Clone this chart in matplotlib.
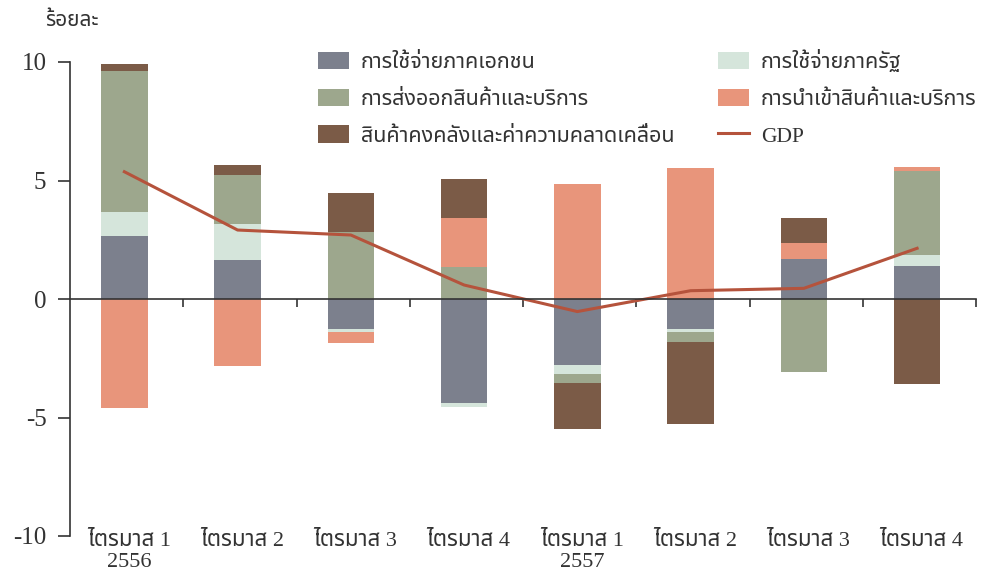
import numpy as np
import matplotlib
matplotlib.use("Agg")
import matplotlib.pyplot as plt
from matplotlib.patches import Patch
from matplotlib.lines import Line2D

plt.rcParams['font.family'] = ['Liberation Serif', 'Noto Sans Thai', 'DejaVu Sans']

quarters = ['ไตรมาส 1\n2556', 'ไตรมาส 2', 'ไตรมาส 3', 'ไตรมาส 4',
            'ไตรมาส 1\n2557', 'ไตรมาส 2', 'ไตรมาส 3', 'ไตรมาส 4']

# contributions to growth (percentage points)
private = [2.66, 1.65, -1.28, -4.40, -2.78, -1.25, 1.67, 1.39]
government = [1.00, 1.50, -0.13, -0.14, -0.40, -0.16, 0.00, 0.47]
exports = [5.98, 2.08, 2.84, 1.36, -0.35, -0.39, -3.07, 3.56]
imports = [-4.61, -2.83, -0.46, 2.04, 4.85, 5.51, 0.68, 0.14]
inventory = [0.28, 0.42, 1.62, 1.65, -1.97, -3.47, 1.05, -3.59]
gdp = [5.37, 2.91, 2.70, 0.59, -0.53, 0.35, 0.45, 2.14]

series = [
    ('การใช้จ่ายภาคเอกชน', private, '#7c808d'),
    ('การใช้จ่ายภาครัฐ', government, '#d5e5db'),
    ('การส่งออกสินค้าและบริการ', exports, '#9da78d'),
    ('การนำเข้าสินค้าและบริการ', imports, '#e8957b'),
    ('สินค้าคงคลังและค่าความคลาดเคลื่อน', inventory, '#7b5b47'),
]
gdp_color = '#b5533c'
txt = '#333333'

fig = plt.figure(figsize=(9.92, 5.77), dpi=100)
ax = fig.add_axes([70 / 992, 41 / 577, 906 / 992, 474 / 577])

x = np.arange(len(quarters)) + 0.48
width = 0.41
pos = np.zeros(len(x))
neg = np.zeros(len(x))
handles = {}
for name, vals, col in series:
    v = np.array(vals)
    base = np.where(v >= 0, pos, neg)
    ax.bar(x, v, width, bottom=base, color=col, linewidth=0, zorder=2)
    pos = pos + np.where(v >= 0, v, 0)
    neg = neg + np.where(v < 0, v, 0)
    handles[name] = Patch(facecolor=col, edgecolor='none')

ax.plot(x, gdp, color=gdp_color, lw=2.2, zorder=3)

ax.set_xlim(0, 8)
ax.set_ylim(-10, 10)
ax.set_yticks([-10, -5, 0, 5, 10])
ax.set_yticklabels(['-10', '-5', '0', '5', '10'], fontsize=18, color=txt)
ax.tick_params(axis='y', direction='out', length=9, width=1.2, color=txt, pad=8)

for s in ['top', 'right']:
    ax.spines[s].set_visible(False)
ax.spines['left'].set_linewidth(1.2)
ax.spines['left'].set_color(txt)
ax.spines['bottom'].set_position(('data', 0))
ax.spines['bottom'].set_linewidth(1.2)
ax.spines['bottom'].set_color(txt)
ax.spines['bottom'].set_zorder(4)
ax.set_xticks(np.arange(1, 9))
ax.set_xticklabels([])
ax.tick_params(axis='x', direction='out', length=6, width=1.2, color=txt)

for xi, lab in zip(x, quarters):
    ax.text(xi + 0.04, 0.008, lab, transform=ax.get_xaxis_transform(), ha='center', va='top',
            fontsize=16, color=txt, linespacing=1.15)

fig.text(45 / 992, 1 - 22 / 577, 'ร้อยละ', fontsize=15, ha='left', va='center', color=txt)

order = ['การใช้จ่ายภาคเอกชน', 'การส่งออกสินค้าและบริการ',
         'สินค้าคงคลังและค่าความคลาดเคลื่อน', 'การใช้จ่ายภาครัฐ',
         'การนำเข้าสินค้าและบริการ']
h = [handles[n] for n in order] + [Line2D([], [], color=gdp_color, lw=2.2)]
labels = order + ['GDP']
leg = fig.legend(h, labels, loc='upper left', bbox_to_anchor=(318 / 992, 1 - 50 / 577),
                 ncol=2, frameon=False, fontsize=15.5, handlelength=1.45, handleheight=0.85,
                 handletextpad=0.55, labelspacing=0.73, columnspacing=2.0, borderpad=0,
                 borderaxespad=0)
for t in leg.get_texts():
    t.set_color(txt)

fig.savefig('out.png', dpi=100)
